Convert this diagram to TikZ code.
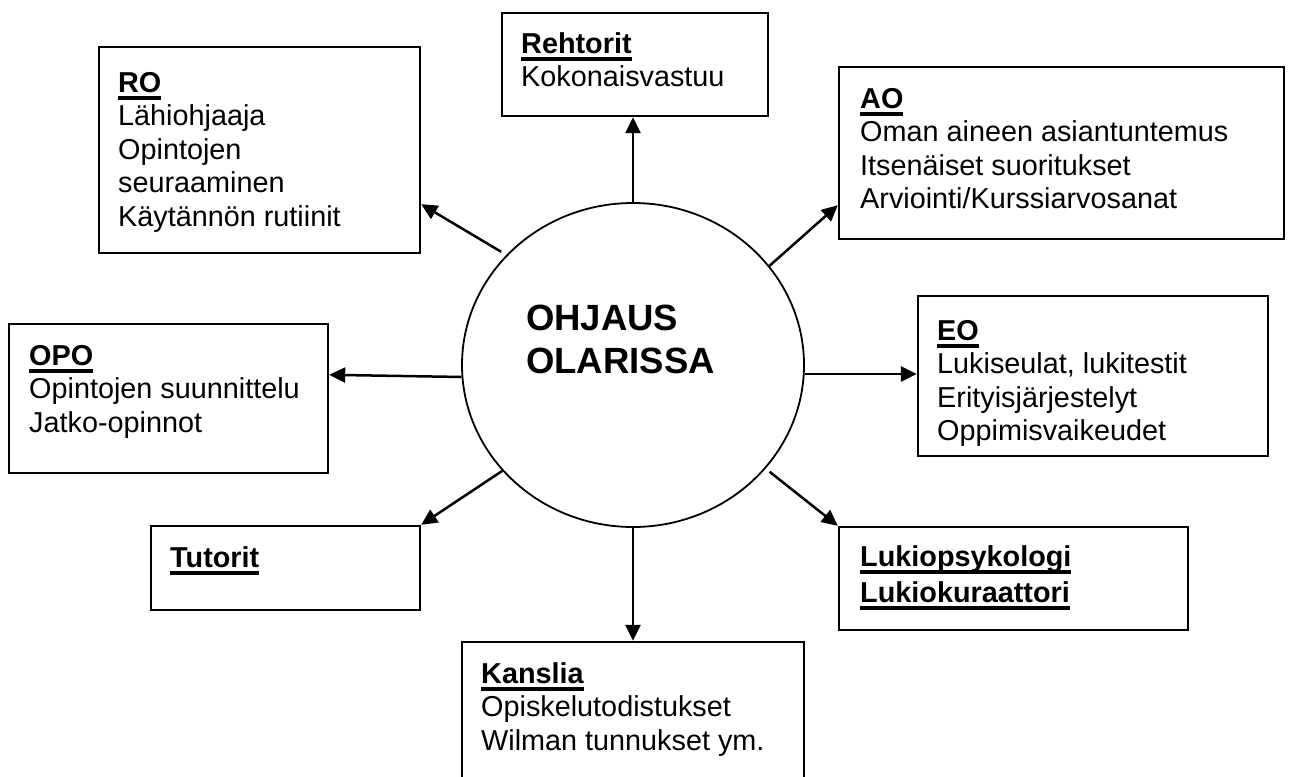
\documentclass[tikz,border=0pt]{standalone}
\usepackage{fontspec}
\setmainfont{Liberation Sans}
\usetikzlibrary{shapes.geometric,arrows.meta,calc}
\newcommand{\hd}[1]{\leavevmode\setbox0=\hbox{\bfseries #1}\rlap{\rule[-8pt]{\wd0}{4pt}}\box0}
\newcommand{\bodyfont}{\fontsize{28.8pt}{33.5pt}\selectfont}
\newcommand{\lines}[1]{\parbox[t]{14cm}{\bodyfont\raggedright #1}}
\tikzset{
  box/.style={draw, line width=2.4pt, rectangle, inner sep=0pt},
  txt/.style={anchor=base west, inner sep=0pt},
  conn/.style={line width=2.5pt, -{Triangle[length=16pt,width=15pt]}},
  hub/.style={draw, ellipse, line width=1.8pt, minimum width=342pt, minimum height=324pt, inner sep=0pt}
}
\begin{document}
\begin{tikzpicture}[x=1pt,y=1pt]
\useasboundingbox (0,0) rectangle (1289,-776);
\clip (0,0) rectangle (1289,-776);
\fill[white] (0,0) rectangle (1289,-776);

% hub
\node[hub] (circ) at (633,-365) {};
\node[txt] (ctext) at (526,-330) {\parbox[t]{10cm}{\fontsize{36.5pt}{43pt}\selectfont\bfseries OHJAUS\\OLARISSA}};

% boxes
\node[box, minimum width=266pt, minimum height=103pt] (reh) at (635,-64.5) {};
\node[box, minimum width=321pt, minimum height=206pt] (ro) at (259.5,-150) {};
\node[box, minimum width=445pt, minimum height=172pt] (ao) at (1061.5,-153) {};
\node[box, minimum width=319pt, minimum height=149pt] (opo) at (168.5,-398.5) {};
\node[box, minimum width=350pt, minimum height=160pt] (eo) at (1093,-376) {};
\node[box, minimum width=269pt, minimum height=84pt] (tut) at (285.5,-568) {};
\node[box, minimum width=349pt, minimum height=103pt] (luk) at (1013.5,-578.5) {};
\node[box, minimum width=342pt, minimum height=178pt] (kan) at (633,-731) {};

% texts
\node[txt] (rehT) at (521,-53) {\lines{\hd{Rehtorit}\\Kokonaisvastuu}};
\node[txt] (roT) at (118,-92) {\lines{\hd{RO}\\L\"ahiohjaaja\\Opintojen\\seuraaminen\\K\"ayt\"ann\"on rutiinit}};
\node[txt] (aoT) at (860,-108) {\lines{\hd{AO}\\Oman aineen asiantuntemus\\It\-sen\"ai\-set suoritukset\\Arviointi/Kurssiarvosanat}};
\node[txt] (opoT) at (29,-365) {\lines{\hd{OPO}\\Opintojen suunnittelu\\Jatko-opinnot}};
\node[txt] (eoT) at (937,-340) {\lines{\hd{EO}\\Lukiseulat, lukitestit\\Erityisj\"arjestelyt\\Oppimisvaikeudet}};
\node[txt] (tutT) at (170,-567) {\lines{\hd{Tutorit}}};
\node[txt] (lukT) at (860,-566) {\lines{\hd{Lukiopsykologi}\\[2.5pt]\hd{Lukiokuraattori}}};
\node[txt] (kanT) at (481,-683) {\lines{\hd{Kanslia}\\Opiskelutodistukset\\Wilman tunnukset ym.}};

% connectors
\draw[conn] (circ.90) -- (circ.90 |- reh.south);
\draw[conn, shorten <=6pt] (circ.139.5) -- ($(ro.south east)+(0,50)$);
\draw[conn] (circ.36) -- ($(ao.south west)+(0,35)$);
\draw[conn] (circ.184.7) -- ($(opo.north east)+(0,-52)$);
\draw[conn] (circ.-3.35) -- (circ.-3.35 -| eo.west);
\draw[conn] (circ.219.2) -- (tut.north east);
\draw[conn, shorten <=5pt] (circ.-38.4) -- (luk.north west);
\draw[conn] (circ.-90) -- (circ.-90 |- kan.north);
\end{tikzpicture}
\end{document}
